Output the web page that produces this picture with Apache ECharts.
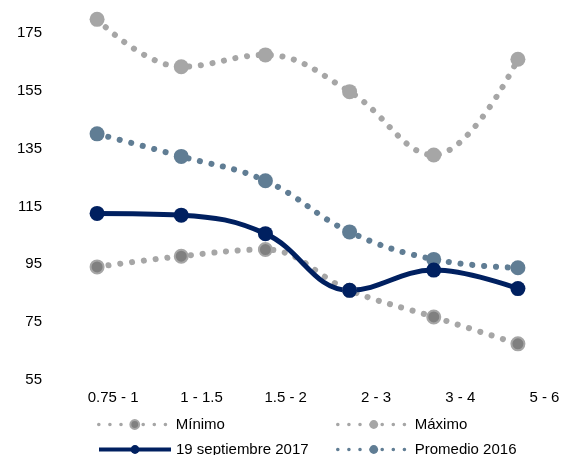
<!DOCTYPE html>
<html>
<head>
<meta charset="utf-8">
<script src="https://cdn.jsdelivr.net/npm/echarts@6/dist/echarts.min.js"></script>
<style>
  html, body { margin: 0; padding: 0; background: #fff; }
  #chart { width: 563px; height: 455px; }
</style>
</head>
<body>
<div id="chart"></div>
<script>
// Maturity buckets (years) and yields per bucket
const categories = ['0.75 - 1', '1 - 1.5', '1.5 - 2', '2 - 3', '3 - 4', '5 - 6'];
const minimo = [94.1, 97.8, 100.1, 86.0, 76.8, 67.5];
const maximo = [179.7, 163.3, 167.4, 154.7, 132.8, 165.9];
const sept2017 = [112.6, 112.0, 105.6, 86.0, 93.0, 86.6];
const promedio2016 = [140.1, 132.3, 123.9, 106.2, 96.7, 93.8];
const yTicks = [55, 75, 95, 115, 135, 155, 175];

const FONT = "'Liberation Sans', Arial, sans-serif";
const GREY = '#a6a6a6';
const DARK_GREY = '#808080';
const NAVY = '#002060';
const SLATE = '#607d94';
const DOTS = [0.1, 11.7];

const chart = echarts.init(document.getElementById('chart'), null, { renderer: 'canvas' });

function legendAt(name, left, top, lineStyle) {
  return {
    data: [{ name: name, lineStyle: lineStyle }],
    left: left, top: top, padding: 0,
    itemWidth: 72, itemHeight: 11,
    textStyle: { fontFamily: FONT, fontSize: 15, color: '#000' },
    selectedMode: false
  };
}

chart.setOption({
  animation: false,
  backgroundColor: '#fff',
  grid: { left: 55, right: 3, top: 4, bottom: 75 },
  xAxis: {
    type: 'category',
    data: categories,
    boundaryGap: true,
    axisLine: { show: false },
    axisTick: { show: false },
    axisLabel: {
      interval: 0,
      margin: 10,
      formatter: '{a|{value}}',
      rich: { a: { width: 83, align: 'right', fontFamily: FONT, fontSize: 15, color: '#000' } }
    }
  },
  yAxis: {
    type: 'value',
    min: yTicks[0],
    max: 185,
    interval: yTicks[1] - yTicks[0],
    axisLine: { show: false },
    axisTick: { show: false },
    splitLine: { show: false },
    axisLabel: { showMaxLabel: false, margin: 13, fontFamily: FONT, fontSize: 15, color: '#000' }
  },
  legend: [
    legendAt('Mínimo', 97, 417, { width: 3.5, type: [0.1, 11], cap: 'round' }),
    legendAt('Máximo', 336, 417, { width: 3.5, type: [0.1, 11], cap: 'round' }),
    legendAt('19 septiembre 2017', 97, 442, { width: 4, type: 'solid' }),
    legendAt('Promedio 2016', 336, 442, { width: 3.5, type: [0.1, 11], cap: 'round' })
  ],
  series: [
    {
      name: 'Mínimo', type: 'line', data: minimo, smooth: 0.4,
      symbol: 'circle', symbolSize: 13,
      lineStyle: { color: GREY, width: 6, type: DOTS, cap: 'round' },
      itemStyle: { color: DARK_GREY, borderColor: GREY, borderWidth: 2 }
    },
    {
      name: 'Máximo', type: 'line', data: maximo, smooth: 0.4,
      symbol: 'circle', symbolSize: 15,
      lineStyle: { color: GREY, width: 6, type: DOTS, cap: 'round' },
      itemStyle: { color: GREY }
    },
    {
      name: 'Promedio 2016', type: 'line', data: promedio2016, smooth: 0.4,
      symbol: 'circle', symbolSize: 15,
      lineStyle: { color: SLATE, width: 6, type: DOTS, cap: 'round' },
      itemStyle: { color: SLATE }
    },
    {
      name: '19 septiembre 2017', type: 'line', data: sept2017, smooth: 0.4,
      symbol: 'circle', symbolSize: 15,
      lineStyle: { color: NAVY, width: 5 },
      itemStyle: { color: NAVY }
    }
  ]
});
</script>
</body>
</html>
